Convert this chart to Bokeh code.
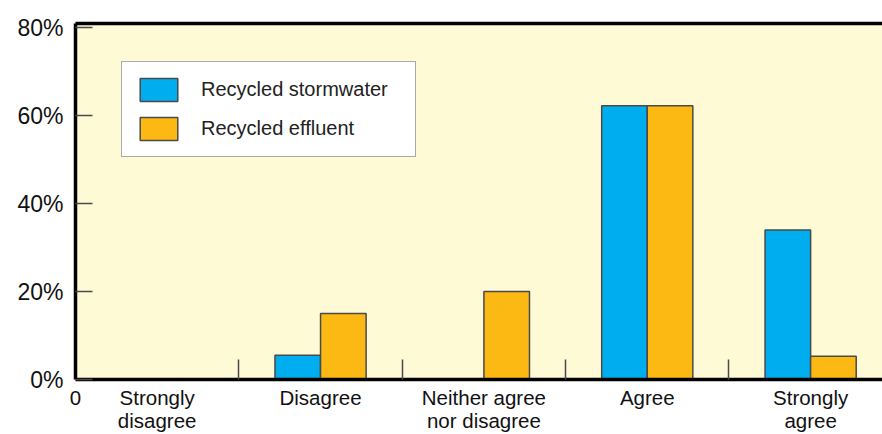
from bokeh.plotting import figure
from bokeh.models import (Range1d, FixedTicker, LinearAxis, Legend, LegendItem,
                          ColumnDataSource)
from bokeh.embed import file_html
from bokeh.resources import INLINE

# Survey responses (% of respondents)
categories = ["Strongly\ndisagree", "Disagree", "Neither agree\nnor disagree",
              "Agree", "Strongly\nagree"]
stormwater = [0, 5.5, 0, 62.3, 34.0]
effluent = [0, 15.0, 20.0, 62.3, 5.3]
y_ticks = [0, 20, 40, 60, 80]
y_tick_labels = ["0%", "20%", "40%", "60%", "80%"]

BLUE = "#00AEEF"
ORANGE = "#FDB913"
EDGE = "#4a4a4a"
FONT = "Liberation Sans"

bar_w = 0.279
centers = [i + 0.5 for i in range(len(categories))]

src_storm = ColumnDataSource(dict(x=[c - bar_w / 2 for c in centers], top=stormwater))
src_eff = ColumnDataSource(dict(x=[c + bar_w / 2 for c in centers], top=effluent))

p = figure(width=882, height=434, output_backend="svg", toolbar_location=None,
           x_range=Range1d(0, 4.94), y_range=Range1d(0, 81),
           x_axis_location=None, y_axis_location=None,
           min_border_left=75, min_border_right=0, min_border_top=23,
           min_border_bottom=53)
p.background_fill_color = "#FFFAD6"
p.border_fill_color = "white"
p.outline_line_color = None
p.xgrid.visible = False
p.ygrid.visible = False

r_storm = p.vbar(x="x", top="top", width=bar_w, source=src_storm,
                 fill_color=BLUE, line_color=EDGE, line_width=1.5)
r_eff = p.vbar(x="x", top="top", width=bar_w, source=src_eff,
               fill_color=ORANGE, line_color=EDGE, line_width=1.5)

# Bottom axis: category names under each group, inward marks between groups
label_ticks = [0] + centers
xaxis = LinearAxis(ticker=FixedTicker(ticks=label_ticks,
                                      minor_ticks=list(range(1, len(categories)))))
xaxis.major_label_overrides = {0: "0", **{c: lab for c, lab in zip(centers, categories)}}
xaxis.axis_line_color = "black"
xaxis.axis_line_width = 3.5
xaxis.major_tick_in = 0
xaxis.major_tick_out = 0
xaxis.minor_tick_in = 20
xaxis.minor_tick_out = 0
xaxis.minor_tick_line_color = "#4a4a4a"
xaxis.minor_tick_line_width = 1.5
xaxis.major_label_standoff = 6
xaxis.major_label_text_font = FONT
xaxis.major_label_text_font_size = "20.5px"
xaxis.major_label_text_color = "#111111"
xaxis.major_label_text_line_height = 1.0
p.add_layout(xaxis, "below")

# Left axis with percentage labels and short inward ticks
yaxis = LinearAxis(ticker=FixedTicker(ticks=y_ticks, minor_ticks=[]))
yaxis.major_label_overrides = {t: lab for t, lab in zip(y_ticks, y_tick_labels)}
yaxis.axis_line_color = "black"
yaxis.axis_line_width = 3.5
yaxis.major_tick_in = 17
yaxis.major_tick_out = 0
yaxis.major_tick_line_color = "#4a4a4a"
yaxis.major_tick_line_width = 1.5
yaxis.major_label_standoff = 12
yaxis.major_label_text_font = FONT
yaxis.major_label_text_font_size = "23px"
yaxis.major_label_text_color = "#111111"
p.add_layout(yaxis, "left")

# Top frame line
top_axis = LinearAxis(ticker=FixedTicker(ticks=[], minor_ticks=[]))
top_axis.axis_line_color = "black"
top_axis.axis_line_width = 3.5
top_axis.major_label_text_font_size = "0px"
top_axis.major_tick_in = 0
top_axis.major_tick_out = 0
p.add_layout(top_axis, "above")

legend = Legend(items=[LegendItem(label="Recycled stormwater", renderers=[r_storm]),
                       LegendItem(label="Recycled effluent", renderers=[r_eff])],
                location=(46, 222))
legend.glyph_width = 47
legend.glyph_height = 29
legend.spacing = 10
legend.padding = 13
legend.margin = 0
legend.label_standoff = 19
legend.label_width = 201
legend.label_text_font = FONT
legend.label_text_font_size = "20px"
legend.label_text_color = "#222222"
legend.border_line_color = "#555555"
legend.border_line_width = 1.5
legend.background_fill_color = "white"
legend.background_fill_alpha = 1.0
p.add_layout(legend, "center")

open("out.html", "w").write(file_html(p, INLINE))
